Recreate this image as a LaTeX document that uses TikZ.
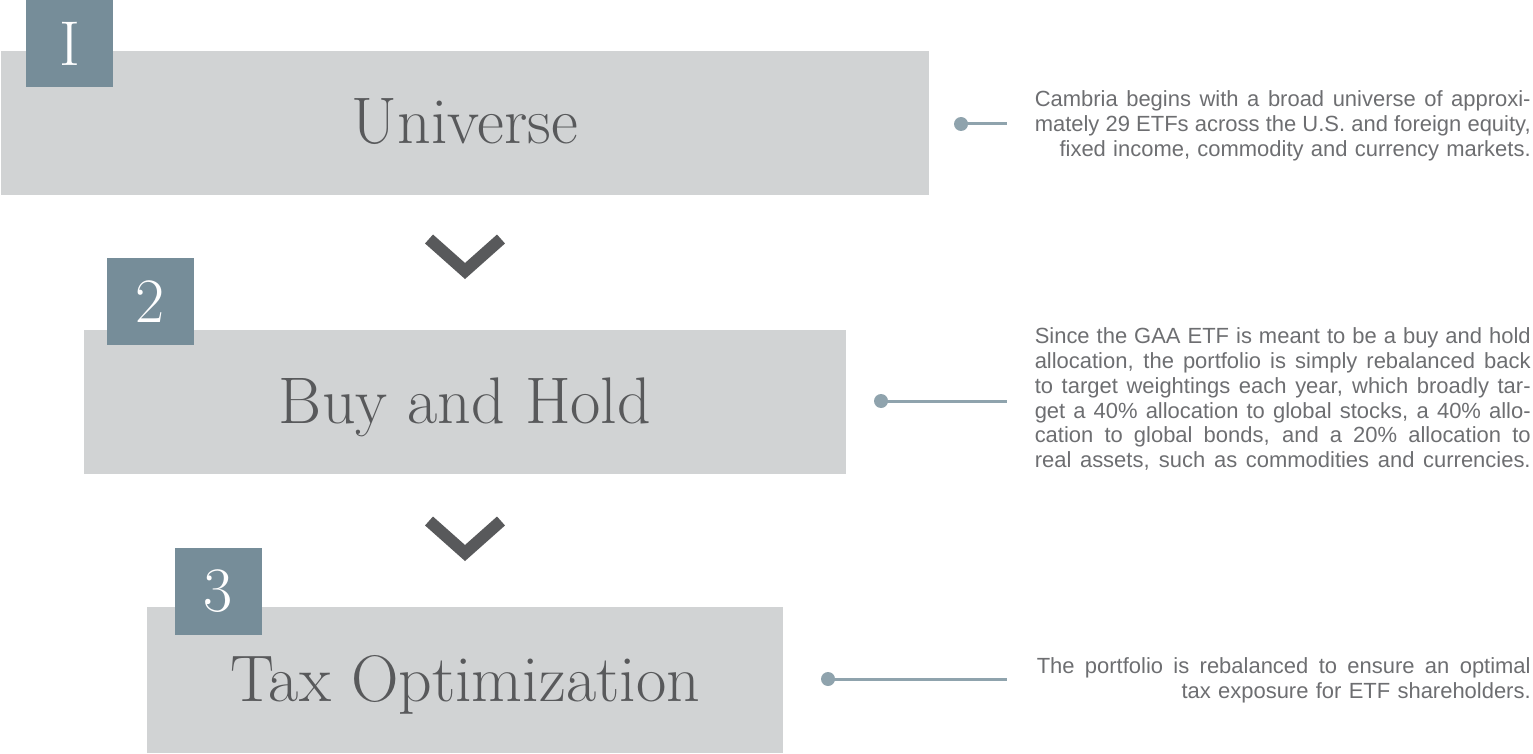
\documentclass[tikz,border=0pt]{standalone}
\usepackage{fontspec}
\newfontfamily\descfont{Liberation Sans}
\definecolor{cbPanel}{HTML}{D1D3D4}
\definecolor{cbSlate}{HTML}{768D99}
\definecolor{cbText}{HTML}{58595B}
\definecolor{cbMuted}{HTML}{6D6E71}
\definecolor{cbLink}{HTML}{8FA3AD}
\usetikzlibrary{calc,positioning}
% justified line of a callout text
\newcommand{\jline}[2][9.92cm]{{\spaceskip=0.28em plus 0.6em minus 0.12em\relax
  \makebox[#1][s]{#2}}}

\begin{document}
\begin{tikzpicture}[x=0.02cm, y=-0.02cm,
  title/.style={anchor=base, text=cbText, font=\fontsize{37.5}{44}\selectfont},
  numbox/.style={fill=cbSlate, text=white, minimum size=1.74cm, inner sep=0pt,
    font=\fontsize{36}{42}\selectfont},
  chevron/.style={draw=cbText, line width=0.24cm, miter limit=10},
  dot/.style={circle, fill=cbLink, minimum size=0.28cm, inner sep=0pt},
  link/.style={draw=cbLink, line width=0.06cm},
  desc/.style={anchor=east, inner sep=0pt, text=cbMuted, align=right,
    font=\descfont\fontsize{12.5}{14.2}\selectfont}]
  \useasboundingbox (0,0) rectangle (1533,753);

  % Panels
  \fill[cbPanel] (1,51) rectangle (929,195);
  \fill[cbPanel] (84,330) rectangle (846,474);
  \fill[cbPanel] (147,607) rectangle (783,753);

  % Number squares
  \node[numbox] (num1) at (69.5,43.5) {I};
  \node[numbox] (num2) at (150.5,301.5) {2};
  \node[numbox] (num3) at (218.5,591.5) {3};

  % -- Step titles --
  \node[title] (universe) at (465,144) {Universe};
  \node[title] (buyhold) at (465,423) {Buy and Hold};
  \node[title] (taxopt) at (465,701) {Tax Optimization};

  % Chevrons
  \draw[chevron] (429,239) -- (465,271) -- (501,239);
  \draw[chevron] (429,521) -- (465,553) -- (501,521);

  % -- Callouts --
  \node[dot] (dotA) at (961,124) {};
  \node[dot] (dotB) at (881,401) {};
  \node[dot] (dotC) at (828,679) {};
  \coordinate (endA) at (1007,124);
  \coordinate (endB) at (1007,401);
  \coordinate (endC) at (1007,679);
  \draw[link] (dotA.center) -- (endA);
  \draw[link] (dotB.center) -- (endB);
  \draw[link] (dotC.center) -- (endC);

  \node[desc, text width=9.92cm] (textA) at (1531,126) {%
    \jline{Cambria begins with a broad universe of approxi-}\\
    \jline{mately 29 ETFs across the U.S. and foreign equity,}\\
    fixed income, commodity and currency markets.};
  \node[desc, text width=9.92cm] (textB) at (1531,399) {%
    \jline{Since the GAA ETF is meant to be a buy and hold}\\
    \jline{allocation, the portfolio is simply rebalanced back}\\
    \jline{to target weightings each year, which broadly tar-}\\
    \jline{get a 40\% allocation to global stocks, a 40\% allo-}\\
    \jline{cation to global bonds, and a 20\% allocation to}\\
    \jline{real assets, such as commodities and currencies.}};
  \node[desc, text width=9.92cm] (textC) at (1531,680) {%
    \jline[9.88cm]{The portfolio is rebalanced to ensure an optimal}\\
    tax exposure for ETF shareholders.};
\end{tikzpicture}
\end{document}
